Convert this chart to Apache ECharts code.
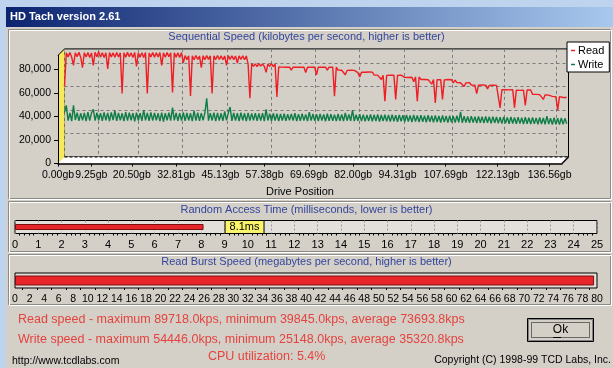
<!DOCTYPE html>
<html>
<head>
<meta charset="utf-8">
<title>HD Tach version 2.61</title>
<script src="https://cdn.jsdelivr.net/npm/echarts@6.0.0/dist/echarts.min.js"></script>
<style>
  html, body { margin: 0; padding: 0; background: #d4d0c8; }
  #chart { width: 613px; height: 368px; }
</style>
</head>
<body>
<div id="chart"></div>
<script>
// drive position ticks, in gb
const driveTicksGb = [0.00, 9.25, 20.50, 32.81, 45.13, 57.38, 69.69, 82.00, 94.31, 107.69, 122.13, 136.56];
const speedTicks = [0, 20000, 40000, 60000, 80000];
const sampleStepGb = 0.5;

// sequential read speed, kbps, one sample every 0.5 gb (10 per row = 5 gb)
const readKbps = [
  60000, 88600, 85200, 89000, 84800, 78000, 88700, 85400, 89200, 84900,
  76000, 88800, 85100, 88900, 84700, 88600, 78000, 89100, 85300, 89700,
  85000, 88800, 84600, 88700, 75000, 88900, 85200, 88600, 84800, 89000,
  85100, 88700, 54000, 88800, 84900, 89100, 85300, 88600, 84700, 88900,
  77000, 88800, 85000, 88700, 84600, 89000, 54000, 88500, 85200, 88900,
  84800, 88700, 85100, 88900, 78000, 88600, 84900, 89000, 85300, 88700,
  55000, 88800, 85000, 88600, 84700, 88900, 80000, 86300, 82900, 86200,
  52000, 86100, 82800, 86400, 83000, 86000, 76000, 86200, 82700, 86300,
  83100, 86000, 54000, 86200, 82900, 86400, 83000, 86100, 82800, 86000,
  78000, 86300, 83100, 86200, 82900, 86000, 80000, 86100, 83000, 86200,
  82800, 86000, 79200, 50000, 79400, 77200, 79300, 77000, 79500, 77300,
  79200, 77100, 72000, 79300, 77200, 79400, 77000, 79100, 51000, 76600,
  76200, 76500, 75800, 76400, 76100, 76500, 74000, 76400, 76200, 76500,
  76300, 76400, 76200, 76500, 72000, 76400, 76300, 76500, 76200, 76400,
  70000, 76500, 76300, 76400, 76200, 76500, 74000, 76400, 76300, 76500,
  51700, 76400, 73900, 73500, 73800, 73400, 70000, 73700, 73500, 73800,
  73300, 73700, 72300, 71800, 68000, 72200, 71700, 72100, 71800, 72300,
  71700, 72200, 69800, 69300, 69700, 69200, 66000, 69600, 47500, 69500,
  69200, 69700, 69300, 69600, 49000, 69500, 69200, 69700, 68300, 67800,
  68200, 67700, 68300, 67900, 64000, 68200, 47500, 68100, 66000, 65500,
  65900, 65400, 65800, 65300, 62000, 65900, 46000, 65700, 65400, 65800,
  49000, 65600, 65300, 65900, 65400, 65700, 63000, 65500, 63300, 62800,
  63200, 62700, 60000, 63100, 62800, 63300, 61300, 60800, 61200, 54000,
  61100, 60700, 61300, 60800, 61200, 58000, 61000, 60600, 61200, 60700,
  61000, 60500, 41700, 57300, 56800, 57200, 56700, 57100, 56800, 57300,
  42000, 56900, 57200, 56700, 57100, 56800, 44000, 57000, 56600, 57100,
  53400, 52800, 53300, 52700, 53100, 52500, 49000, 52900, 52400, 52700,
  52100, 51600, 51900, 51300, 39845, 51400, 51000, 50600, 51200, 50700
];

// sequential write speed, kbps, same sampling
const writeKbps = [
  38000, 44000, 31000, 37500, 30500, 44000, 31500, 37800, 30800, 37200,
  31200, 37600, 30600, 38200, 31000, 37400, 40500, 30900, 37700, 31300,
  37300, 30700, 37900, 31100, 37500, 30500, 38000, 31400, 39500, 30800,
  37600, 31200, 37200, 30600, 38100, 31000, 37700, 31300, 37400, 30400,
  37800, 31100, 37300, 30800, 40000, 31200, 37600, 30700, 37900, 31000,
  37500, 31300, 37200, 30600, 37800, 30200, 37400, 31100, 37700, 30900,
  42000, 31200, 37600, 30800, 37300, 31000, 37900, 30700, 37500, 31100,
  37200, 30500, 39500, 31000, 37700, 30800, 37400, 31200, 37600, 50000,
  30900, 37300, 31100, 37800, 30600, 37500, 31000, 37200, 30700, 38800,
  31200, 37400, 42500, 30800, 37600, 31000, 37300, 30600, 37700, 31100,
  37200, 30500, 37500, 30900, 37100, 31200, 37400, 30700, 37000, 31000,
  37300, 30600, 40500, 31100, 36900, 30800, 37200, 31000, 36800, 30500,
  36600, 31000, 36800, 30700, 36400, 31200, 36700, 30900, 37400, 30600,
  36500, 30800, 36900, 31000, 36300, 30500, 38200, 30900, 36600, 30700,
  36400, 30600, 36700, 31000, 36200, 30400, 36800, 30800, 36500, 30900,
  36100, 30500, 36600, 30800, 36300, 30600, 37600, 30900, 36200, 30700,
  39800, 30600, 36000, 30800, 36400, 30500, 36100, 30300, 35800, 30700,
  36200, 30400, 35900, 30600, 36300, 30200, 35700, 30500, 36000, 30300,
  35800, 30100, 36100, 30400, 35600, 30000, 35900, 30300, 35500, 29900,
  35700, 30200, 35400, 29800, 35800, 30100, 35300, 29700, 35600, 30000,
  35200, 29600, 35500, 29900, 35100, 29500, 35400, 29800, 35000, 29400,
  35300, 29700, 34900, 29300, 35200, 29600, 34800, 29200, 35100, 29500,
  38500, 29100, 34700, 29400, 34500, 29000, 34800, 29300, 34400, 28900,
  34600, 29200, 34300, 28800, 34500, 29100, 34200, 28700, 34400, 29000,
  34000, 28600, 33800, 28400, 34100, 28700, 33700, 28300, 34000, 28500,
  33600, 28200, 33900, 28400, 33500, 28100, 33800, 28300, 33400, 28000,
  33700, 28200, 33300, 27900, 33600, 28100, 33200, 27800, 34800, 28000,
  33100, 27700, 33400, 27900, 33000, 27600, 33300, 27800, 32900, 28300
];

const accessTimeMs = 8.1;
const burstMBps = 79.6;
const cpuPercent = 5.4;
const readStats = { max: '89718.0', min: '39845.0', avg: '73693.8' };
const writeStats = { max: '54446.0', min: '25148.0', avg: '35320.8' };

const FONT = '"Liberation Sans", Arial, sans-serif';
const BG = '#d4d0c8';
const TITLE_BLUE = '#33459c';
const STAT_RED = '#e4433e';
const READ_RED = '#ee1e24';
const WRITE_GREEN = '#0f7d47';

// 3D box of the sequential chart
const FRONT = { left: 58, top: 55.4, width: 504, height: 108.1 };
const DEPTH = 6.5;

const chart = echarts.init(document.getElementById('chart'), null, { renderer: 'canvas' });

const fx0 = FRONT.left, fx1 = FRONT.left + FRONT.width;
const fy0 = FRONT.top, fy1 = FRONT.top + FRONT.height;

function etched(x, y, w, h) {
  return [
    { type: 'rect', z: -5, shape: { x: x + 0.5, y: y + 0.5, width: w, height: h }, style: { fill: 'none', stroke: '#8c8a85' } },
    { type: 'rect', z: -5, shape: { x: x + 1.5, y: y + 1.5, width: w, height: h }, style: { fill: 'none', stroke: '#ffffff' } }
  ];
}

const graphics = [
  { type: 'rect', z: -10, shape: { x: 0, y: 0, width: 613, height: 368 }, style: { fill: '#bdd3ee' } },
  { type: 'rect', z: -9, shape: { x: 6, y: 27, width: 607, height: 341 }, style: { fill: BG } },
  {
    type: 'rect', z: -9, shape: { x: 6, y: 7, width: 607, height: 20 },
    style: { fill: new echarts.graphic.LinearGradient(0, 0, 1, 0, [
      { offset: 0, color: '#0c2470' }, { offset: 1, color: '#a8c8ee' }
    ]) }
  },
  { type: 'text', z: -8, x: 10, y: 17, style: { text: 'HD Tach version 2.61', fill: '#fff', font: 'bold 11px ' + FONT, verticalAlign: 'middle' } },
  ...etched(8, 29, 602, 169),
  ...etched(8, 201, 602, 50),
  ...etched(8, 254, 602, 50),

  // yellow left wall and white floor of the 3D box
  { type: 'polygon', z: 1, shape: { points: [[fx0, fy0], [fx0 + DEPTH, fy0 - DEPTH], [fx0 + DEPTH, fy1 - DEPTH], [fx0, fy1]] }, style: { fill: '#f6e95c' } },
  { type: 'polygon', z: 1, shape: { points: [[fx0, fy1], [fx0 + DEPTH, fy1 - DEPTH], [fx1 + DEPTH, fy1 - DEPTH], [fx1, fy1]] }, style: { fill: '#ffffff' } },
  { type: 'line', z: 1, shape: { x1: fx0 + DEPTH, y1: fy1 - DEPTH, x2: fx1 + DEPTH, y2: fy1 - DEPTH }, style: { stroke: '#000', lineDash: [3, 2] } },
  { type: 'line', z: 1, shape: { x1: fx1, y1: fy1, x2: fx1 + DEPTH, y2: fy1 - DEPTH }, style: { stroke: '#000', lineWidth: 1.5 } },
  { type: 'line', z: 1, shape: { x1: fx0, y1: fy0, x2: fx0 + DEPTH, y2: fy0 - DEPTH }, style: { stroke: '#000' } },

  // summary text
  { type: 'text', x: 18, y: 320, style: { text: `Read speed - maximum ${readStats.max}kps, minimum ${readStats.min}kps, average ${readStats.avg}kps`, fill: STAT_RED, font: '12.5px ' + FONT, verticalAlign: 'middle' } },
  { type: 'text', x: 18, y: 340, style: { text: `Write speed - maximum ${writeStats.max}kps, minimum ${writeStats.min}kps, average ${writeStats.avg}kps`, fill: STAT_RED, font: '12.5px ' + FONT, verticalAlign: 'middle' } },
  { type: 'text', x: 208, y: 357, style: { text: `CPU utilization: ${cpuPercent}%`, fill: STAT_RED, font: '12.5px ' + FONT, verticalAlign: 'middle' } },
  { type: 'text', x: 12, y: 361, style: { text: 'http://www.tcdlabs.com', fill: '#000', font: '10.5px ' + FONT, verticalAlign: 'middle' } },
  { type: 'text', x: 611, y: 360, style: { text: 'Copyright (C) 1998-99 TCD Labs, Inc.', fill: '#000', font: '10.5px ' + FONT, verticalAlign: 'middle', align: 'right' } },

  // Ok button
  { type: 'rect', shape: { x: 527.5, y: 318.5, width: 66, height: 23 }, style: { fill: BG, stroke: '#000' } },
  { type: 'rect', shape: { x: 528.5, y: 319.5, width: 64, height: 21 }, style: { fill: 'none', stroke: '#808080' } },
  { type: 'rect', shape: { x: 531.5, y: 322.5, width: 58, height: 15 }, style: { fill: 'none', stroke: '#000', lineDash: [1, 1] } },
  { type: 'text', x: 560.5, y: 330, style: { text: 'Ok', fill: '#000', font: '12px ' + FONT, align: 'center', verticalAlign: 'middle' } },
  { type: 'line', shape: { x1: 553, y1: 337.5, x2: 561, y2: 337.5 }, style: { stroke: '#000' } }
];

const blackLine = { lineStyle: { color: '#000', width: 1 } };
const panelTitle = { fontSize: 11, fontWeight: 'normal', color: TITLE_BLUE, fontFamily: FONT };

chart.setOption({
  animation: false,
  textStyle: { fontFamily: FONT },
  title: [
    { text: 'Sequential Speed (kilobytes per second, higher is better)', left: 'center', top: 31, padding: 0, textStyle: panelTitle },
    { text: 'Random Access Time (milliseconds, lower is better)', left: 'center', top: 204, padding: 0, textStyle: panelTitle },
    { text: 'Read Burst Speed (megabytes per second, higher is better)', left: 'center', top: 256, padding: 0, textStyle: panelTitle }
  ],
  legend: {
    data: ['Read', 'Write'],
    orient: 'vertical',
    left: 567, top: 42,
    icon: 'rect', itemWidth: 4, itemHeight: 1.5, itemGap: 3,
    padding: [3, 5, 2, 4],
    backgroundColor: '#fff', borderColor: '#000', borderWidth: 1,
    textStyle: { fontSize: 11, color: '#000', fontFamily: FONT, padding: [0, 0, 0, -2] }
  },
  grid: [
    { left: FRONT.left, top: FRONT.top, width: FRONT.width, height: FRONT.height },
    { left: FRONT.left + DEPTH, top: FRONT.top - DEPTH, width: FRONT.width, height: FRONT.height, show: true, borderColor: '#000', borderWidth: 1, backgroundColor: 'transparent' },
    { left: 15, top: 220.5, width: 582, height: 13, show: true, backgroundColor: '#e3e0db', borderColor: '#000', borderWidth: 1 },
    { left: 15, top: 273, width: 582, height: 15, show: true, backgroundColor: '#e3e0db', borderColor: '#000', borderWidth: 1 }
  ],
  xAxis: [
    {
      gridIndex: 0, type: 'value', min: 0, max: 140, z: 3,
      axisLine: { lineStyle: { color: '#000', width: 1.5 } },
      axisTick: { customValues: driveTicksGb, length: 3, lineStyle: { color: '#000' } },
      axisLabel: { customValues: driveTicksGb, formatter: v => v.toFixed(2) + 'gb', fontSize: 10.5, color: '#000', margin: 6 },
      splitLine: { show: false },
      name: 'Drive Position', nameLocation: 'middle', nameGap: 23,
      nameTextStyle: { fontSize: 11, color: '#000', padding: [0, 20, 0, 0] }
    },
    {
      gridIndex: 1, type: 'value', min: 0, max: 140,
      axisLine: { show: false }, axisLabel: { show: false },
      axisTick: { show: false, customValues: driveTicksGb },
      splitLine: { show: true, lineStyle: { color: '#7a7a7a', type: [3, 3] } }
    },
    {
      gridIndex: 2, type: 'value', min: 0, max: 25, interval: 1,
      axisLine: blackLine,
      axisTick: { length: 4, lineStyle: { color: '#000' } },
      minorTick: { show: true, splitNumber: 5, length: 2, lineStyle: { color: '#000' } },
      axisLabel: { fontSize: 11, color: '#000', margin: 6 },
      splitLine: { show: true, lineStyle: { color: '#9a9a9a', type: [2, 2] } }
    },
    {
      gridIndex: 3, type: 'value', min: 0, max: 80, interval: 2,
      axisLine: blackLine,
      axisTick: { length: 4, lineStyle: { color: '#000' } },
      minorTick: { show: true, splitNumber: 2, length: 2, lineStyle: { color: '#000' } },
      axisLabel: { fontSize: 10.5, color: '#000', margin: 6, interval: 0, hideOverlap: false },
      splitLine: { show: false }
    }
  ],
  yAxis: [
    {
      gridIndex: 0, type: 'value', min: 0, max: 92000, z: 3,
      axisLine: { show: true, lineStyle: { color: '#000' } },
      axisTick: { show: true, customValues: speedTicks, length: 4, lineStyle: { color: '#000' } },
      axisLabel: { customValues: speedTicks, formatter: v => v.toLocaleString('en-US'), fontSize: 10.5, color: '#000', margin: 7 },
      splitLine: { show: false }
    },
    {
      gridIndex: 1, type: 'value', min: 0, max: 92000, interval: 20000,
      axisLine: { show: false }, axisTick: { show: false }, axisLabel: { show: false },
      splitLine: { show: true, lineStyle: { color: '#7a7a7a', type: [3, 3] } }
    },
    { gridIndex: 2, type: 'category', data: ['access'], show: false },
    { gridIndex: 3, type: 'category', data: ['burst'], show: false }
  ],
  series: [
    {
      name: 'Read', type: 'line', xAxisIndex: 1, yAxisIndex: 1, z: 3,
      data: readKbps.map((v, i) => [i * sampleStepGb, v]),
      showSymbol: false, symbol: 'none',
      lineStyle: { color: READ_RED, width: 1.4 }, itemStyle: { color: READ_RED }
    },
    {
      name: 'Write', type: 'line', xAxisIndex: 1, yAxisIndex: 1, z: 3,
      data: writeKbps.map((v, i) => [i * sampleStepGb, v]),
      showSymbol: false, symbol: 'none',
      lineStyle: { color: WRITE_GREEN, width: 1.4 }, itemStyle: { color: WRITE_GREEN }
    },
    {
      name: 'Access', type: 'bar', xAxisIndex: 2, yAxisIndex: 2,
      data: [accessTimeMs], barWidth: 6,
      itemStyle: { color: '#e8262a', borderColor: '#7a1010', borderWidth: 1 },
      label: {
        show: true, position: 'right', distance: 22, formatter: '{c}ms',
        backgroundColor: '#fbf46a', borderColor: '#000', borderWidth: 1,
        padding: [1, 4, 0, 4], color: '#000', fontSize: 11, lineHeight: 11
      }
    },
    {
      name: 'Burst', type: 'bar', xAxisIndex: 3, yAxisIndex: 3,
      data: [burstMBps], barWidth: 10,
      itemStyle: { color: '#e8262a', borderColor: '#7a1010', borderWidth: 1 }
    }
  ],
  graphic: { elements: graphics }
});
</script>
</body>
</html>
